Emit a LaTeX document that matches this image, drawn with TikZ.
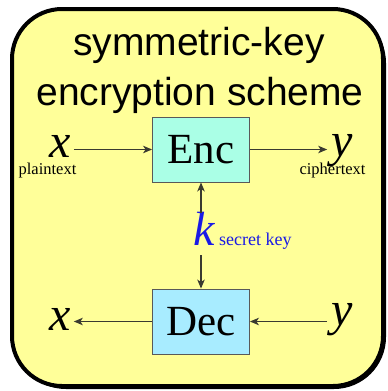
\documentclass[tikz,border=0pt]{standalone}
\usepackage{fontspec}
\setmainfont{Liberation Serif}
\newfontfamily\titlefont{Liberation Sans}
\usetikzlibrary{arrows.meta}
\definecolor{bgyellow}{HTML}{FFFF99}
\definecolor{encfill}{HTML}{AAFFE6}
\definecolor{decfill}{HTML}{A8ECFF}
\definecolor{keyblue}{HTML}{1A1AE6}
\definecolor{linecol}{HTML}{3A3A30}
\tikzset{
  blockbox/.style={draw=black!65, line width=0.9pt, minimum width=97pt, minimum height=65pt, inner sep=0pt, font=\fontsize{43}{43}\selectfont},
  varlabel/.style={inner sep=0pt, font=\fontsize{48}{48}\selectfont\itshape},
  smalllabel/.style={inner sep=0pt, font=\fontsize{16.5}{17}\selectfont},
  titletext/.style={inner sep=0pt, anchor=base, font=\titlefont\fontsize{39}{39}\selectfont},
  arr/.style={draw=linecol, line width=1.2pt, -{Stealth[length=9pt,width=7.5pt,inset=2.5pt]}},
}
\begin{document}
\begin{tikzpicture}[x=1pt,y=-1pt]
\useasboundingbox (0,0) rectangle (388,391);
% outer frame with slight shadow
\fill[black, rounded corners=52pt] (14,11) rectangle (386,389);
\filldraw[fill=bgyellow, draw=black, line width=4pt, rounded corners=50pt] (12,9) rectangle (383,386);
% title
\node[titletext] (t1) at (199,55) {symmetric-key};
\node[titletext] (t2) at (200,105) {encryption scheme};
% blocks
\node[blockbox, fill=encfill] (enc) at (201,149.5) {Enc};
\node[blockbox, fill=decfill] (dec) at (201,321.5) {Dec};
% variables
\node[varlabel, anchor=base] (xin) at (60,157) {x};
\node[varlabel, anchor=base] (yout) at (342,156) {y};
\node[varlabel, anchor=base] (xout) at (60,330) {x};
\node[varlabel, anchor=base] (yin) at (342,325) {y};
\node[varlabel, anchor=base, text=keyblue] (k) at (204,245) {k};
% small labels
\node[smalllabel, anchor=base] (pt) at (47.5,174) {plaintext};
\node[smalllabel, anchor=base] (ct) at (332.5,174) {ciphertext};
\node[smalllabel, anchor=base west, text=keyblue, font=\fontsize{18}{18}\selectfont] (sk) at (219,245) {secret key};
% connectors
\coordinate (ktopy) at (0,213);
\coordinate (kboty) at (0,255);
\draw[arr] ([xshift=3pt]xin.east |- enc.west) -- (enc.west);
\draw[arr] (enc.east) -- ([xshift=-4pt]yout.west |- enc.east);
\draw[arr] (enc.south |- ktopy) -- (enc.south);
\draw[arr] (dec.north |- kboty) -- (dec.north);
\draw[arr] (dec.west) -- ([xshift=3pt]xout.east |- dec.west);
\draw[arr] ([xshift=-4pt]yin.west |- dec.east) -- (dec.east);
\end{tikzpicture}
\end{document}
